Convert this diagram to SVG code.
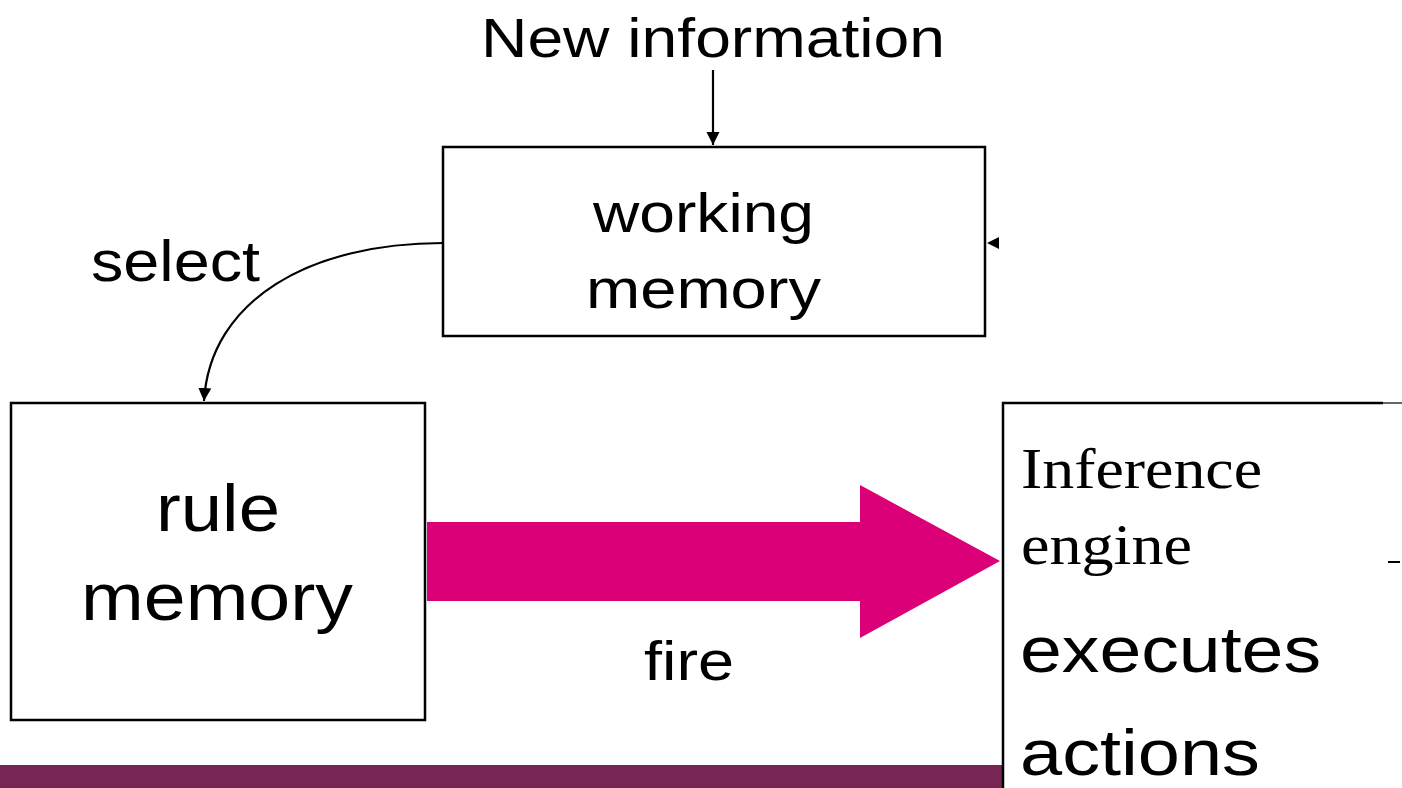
<svg xmlns="http://www.w3.org/2000/svg" width="1402" height="788" viewBox="0 0 1402 788">
<style>
.box{fill:#fff;stroke:#000;stroke-width:2.5}
.sans{font-family:"Liberation Sans",Arial,sans-serif;fill:#000}
.serif{font-family:"Liberation Serif","Times New Roman",serif;fill:#000}
.conn{fill:none;stroke:#000;stroke-width:2.2}
</style>
<defs>
<marker id="ah" markerWidth="13" markerHeight="14" refX="10" refY="5" orient="auto" markerUnits="userSpaceOnUse" viewBox="0 0 10 10">
<path d="M0,0 L10,5 L0,10 Z" fill="#000"/>
</marker>
</defs>
<rect width="1402" height="788" fill="#fff"/>
<rect x="0" y="765" width="1003" height="23" fill="#772553"/>
<text class="sans" x="481" y="57" font-size="55" textLength="464" lengthAdjust="spacingAndGlyphs">New information</text>
<g id="working-memory">
<rect class="box" x="443" y="147" width="542" height="189"/>
<text class="sans" x="593" y="232" font-size="56" textLength="221" lengthAdjust="spacingAndGlyphs">working</text>
<text class="sans" x="586" y="308" font-size="56" textLength="235" lengthAdjust="spacingAndGlyphs">memory</text>
</g>
<g id="rule-memory">
<rect class="box" x="11" y="403" width="414" height="317"/>
<text class="sans" x="156" y="531" font-size="67" textLength="124" lengthAdjust="spacingAndGlyphs">rule</text>
<text class="sans" x="81" y="620" font-size="67" textLength="272" lengthAdjust="spacingAndGlyphs">memory</text>
</g>
<g id="inference-engine">
<path d="M1003,788 V403 H1383" fill="none" stroke="#000" stroke-width="2.5"/>
<path d="M1383,403 H1402" fill="none" stroke="#666" stroke-width="2"/>
<path d="M1388,562 H1400" fill="none" stroke="#000" stroke-width="2"/>
<text class="serif" x="1021" y="488" font-size="56" textLength="241" lengthAdjust="spacingAndGlyphs">Inference</text>
<text class="serif" x="1021" y="564" font-size="56" textLength="171" lengthAdjust="spacingAndGlyphs">engine</text>
<text class="sans" x="1020" y="672" font-size="65" textLength="301" lengthAdjust="spacingAndGlyphs">executes</text>
<text class="sans" x="1020" y="775" font-size="65" textLength="240" lengthAdjust="spacingAndGlyphs">actions</text>
</g>
<g id="connectors">
<line class="conn" x1="713" y1="70" x2="713" y2="145" marker-end="url(#ah)"/>
<path class="conn" d="M443,243 C310,243 210,300 204,401" marker-end="url(#ah)"/>
<path d="M999,237 L987,243 L999,249 Z" fill="#000"/>
<path d="M427,522 H860 V485 L1000,561 L860,638 V601 H427 Z" fill="#dc0078"/>
<text class="sans" x="91" y="281" font-size="57" textLength="169" lengthAdjust="spacingAndGlyphs">select</text>
<text class="sans" x="644" y="680" font-size="56" textLength="90" lengthAdjust="spacingAndGlyphs">fire</text>
</g>
</svg>
